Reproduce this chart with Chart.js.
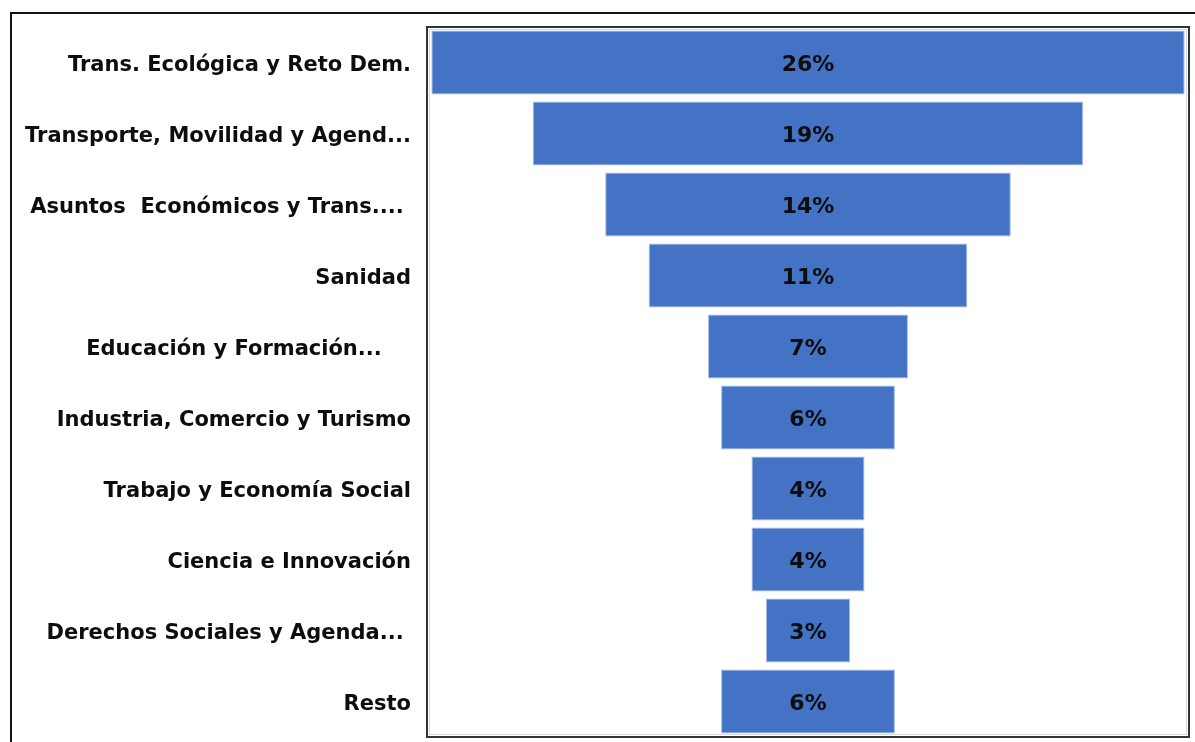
<!DOCTYPE html>
<html>
<head>
<meta charset="utf-8">
<script src="https://cdn.jsdelivr.net/npm/chart.js@4.4.1/dist/chart.umd.min.js"></script>
<style>
  html, body { margin: 0; padding: 0; background: #fff; }
  #frame { position: absolute; left: 10px; top: 12px; width: 1300px; height: 900px; border-left: 2px solid #111; border-top: 2px solid #111; }
  #wrap { position: absolute; left: 0; top: 0; width: 1195px; height: 742px; }
</style>
</head>
<body>
<div id="frame"></div>
<div id="wrap"><canvas id="c" width="1195" height="742"></canvas></div>
<script>
const categories = [
  "Trans. Ecológica y Reto Dem.",
  "Transporte, Movilidad y Agend...",
  "Asuntos  Económicos y Trans.... ",
  "Sanidad",
  "Educación y Formación...    ",
  "Industria, Comercio y Turismo",
  "Trabajo y Economía Social",
  "Ciencia e Innovación",
  "Derechos Sociales y Agenda... ",
  "Resto"
];
const shares = [26, 19, 14, 11, 6.9, 6, 3.9, 3.9, 2.9, 6];

const floating = shares.map(v => [-v / 2, v / 2]);

const boxPlugin = {
  id: 'box',
  afterDraw(chart) {
    const { ctx, chartArea: a } = chart;
    ctx.save();
    ctx.strokeStyle = '#d9d9d9';
    ctx.lineWidth = 1;
    ctx.strokeRect(a.left + 2.5, a.top + 2.5, a.right - a.left - 5, a.bottom - a.top - 5);
    ctx.strokeStyle = '#333';
    ctx.lineWidth = 2;
    ctx.strokeRect(a.left, a.top, a.right - a.left, a.bottom - a.top);
    ctx.restore();
  }
};

const labelPlugin = {
  id: 'vals',
  afterDatasetsDraw(chart) {
    const { ctx } = chart;
    const meta = chart.getDatasetMeta(0);
    ctx.save();
    ctx.font = 'bold 22px "DejaVu Sans"';
    ctx.fillStyle = '#0d0d0d';
    ctx.textAlign = 'center';
    ctx.textBaseline = 'middle';
    meta.data.forEach((bar, i) => {
      const cx = (bar.x + bar.base) / 2;
      ctx.fillText(Math.round(shares[i]) + '%', cx, bar.y + 3);
    });
    ctx.restore();
  }
};

new Chart(document.getElementById('c'), {
  type: 'bar',
  data: {
    labels: categories,
    datasets: [{
      data: floating,
      backgroundColor: '#4472C4',
      borderColor: '#a7bde6',
      borderWidth: 1,
      borderSkipped: false,
      categoryPercentage: 1,
      barPercentage: 0.9
    }]
  },
  options: {
    indexAxis: 'y',
    responsive: false,
    animation: false,
    layout: { padding: { left: 0, top: 27, right: 6, bottom: 5 } },
    plugins: { legend: { display: false }, tooltip: { enabled: false } },
    scales: {
      x: { display: false, min: -13.15, max: 13.15 },
      y: {
        grid: { display: false, drawTicks: false },
        border: { display: false },
        ticks: { color: '#0d0d0d', font: { family: 'DejaVu Sans', weight: 'bold', size: 21 }, padding: 16, labelOffset: 3 },
        afterFit(s) { s.width = 427; s.paddingTop = 0; s.paddingBottom = 0; }
      }
    }
  },
  plugins: [boxPlugin, labelPlugin]
});
</script>
</body>
</html>
